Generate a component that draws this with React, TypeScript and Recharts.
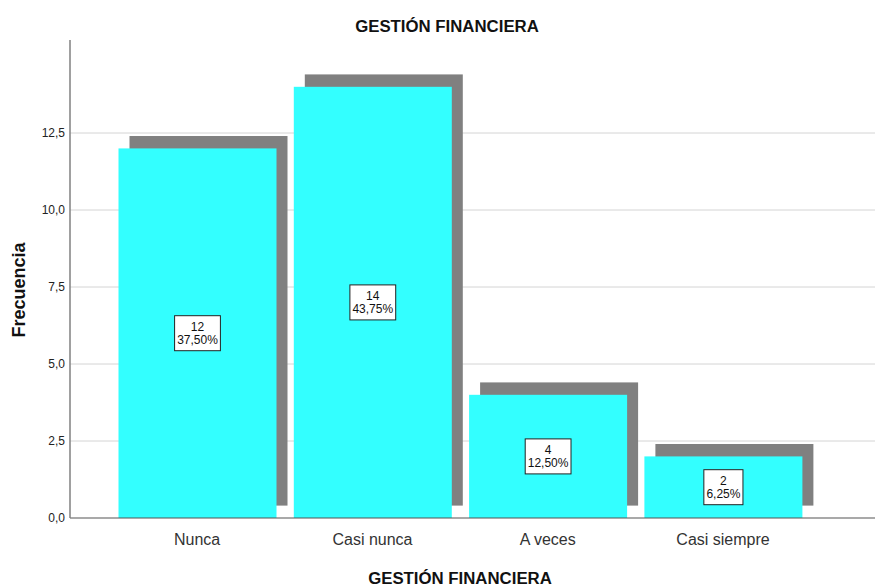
import React from 'react';
import { BarChart, Bar, XAxis, YAxis, CartesianGrid, LabelList } from 'recharts';

const categories = ['Nunca', 'Casi nunca', 'A veces', 'Casi siempre'];
const frequencies = [12, 14, 4, 2];
const percents = ['37,50%', '43,75%', '12,50%', '6,25%'];
const yTicks = [0, 2.5, 5, 7.5, 10, 12.5];
const yMax = 15.52;

const data = categories.map((name, i) => ({ name, value: frequencies[i], pct: percents[i] }));

const W = 875;
const H = 587;

// bar with the grey drop shadow SPSS draws behind it
const ShadowBar = (props: any) => {
 const { x, y, width, height } = props;
 return (
 <g>
 <rect x={x + 11} y={y - 12.4} width={width} height={height} fill="#808080" />
 <rect x={x} y={y} width={width} height={height} fill="#33FFFF" />
 </g>
 );
};

// rough Arial 12px widths
const textWidth = (s: string) =>
 s.split('').reduce((w, c) => w + (c === ',' ? 3.3 : c === '%' ? 10.7 : 6.7), 0);

const CountLabel = (props: any) => {
 const { x, y, width, height, index } = props;
 const cx = x + width / 2;
 const cy = y + height / 2;
 const pct = percents[index];
 const bw = Math.max(textWidth(pct), textWidth(String(frequencies[index]))) + 5;
 return (
 <g>
 <rect x={cx - bw / 2} y={cy - 17.5} width={bw} height={35} fill="#fff" stroke="#222" strokeWidth={1} />
 <text x={cx} y={cy - 2} textAnchor="middle" fontSize={12} fill="#111" fontFamily="Liberation Sans, Arial, sans-serif">
 {frequencies[index]}
 </text>
 <text x={cx} y={cy + 11} textAnchor="middle" fontSize={12} fill="#111" fontFamily="Liberation Sans, Arial, sans-serif">
 {pct}
 </text>
 </g>
 );
};

const fmt = (v: number) => v.toFixed(1).replace('.', ',');

// gridlines only at the tick values (no line along the top edge)
const gridRows = ({ offset }: any) =>
 yTicks.slice(1).map((t) => offset.top + offset.height * (1 - t / yMax));

export default function App() {
 return (
 <div style={{ position: 'absolute', left: 0, top: 0, width: W, height: H, background: '#fff' }}>
 <BarChart
 width={W}
 height={H}
 data={data}
 margin={{ top: 40, right: 0, bottom: 0, left: 0 }}
 style={{ fontFamily: 'Liberation Sans, Arial, sans-serif' }}
 >
 <CartesianGrid vertical={false} stroke="#d4d4d4" horizontalCoordinatesGenerator={gridRows} />
 <XAxis
 dataKey="name"
 height={69}
 padding={{ left: 39.5, right: 64.3 }}
 tickLine={false}
 tickMargin={10}
 axisLine={{ stroke: '#555', strokeWidth: 1.2 }}
 tick={{ fontSize: 16, fill: '#333' }}
 interval={0}
 />
 <YAxis
 width={70}
 domain={[0, yMax]}
 ticks={yTicks}
 tickFormatter={fmt}
 tickLine={false}
 tickSize={3}
 tickMargin={2}
 axisLine={{ stroke: '#808080', strokeWidth: 1.5 }}
 tick={{ fontSize: 12, fill: '#222' }}
 />
 <Bar dataKey="value" barSize={158} shape={<ShadowBar />} isAnimationActive={false}>
 <LabelList dataKey="value" content={<CountLabel />} />
 </Bar>
 </BarChart>
 <svg width={W} height={H} style={{ position: 'absolute', left: 0, top: 0, pointerEvents: 'none' }}>
 <g fontFamily="Liberation Sans, Arial, sans-serif" fontWeight="bold" fill="#111">
 <text x={447} y={32} textAnchor="middle" fontSize={16.8}>GESTIÓN FINANCIERA</text>
 <text x={460} y={584} textAnchor="middle" fontSize={16.8}>GESTIÓN FINANCIERA</text>
 <text x={25} y={290} textAnchor="middle" fontSize={18} transform="rotate(-90 25 290)">Frecuencia</text>
 </g>
 </svg>
 </div>
 );
}
